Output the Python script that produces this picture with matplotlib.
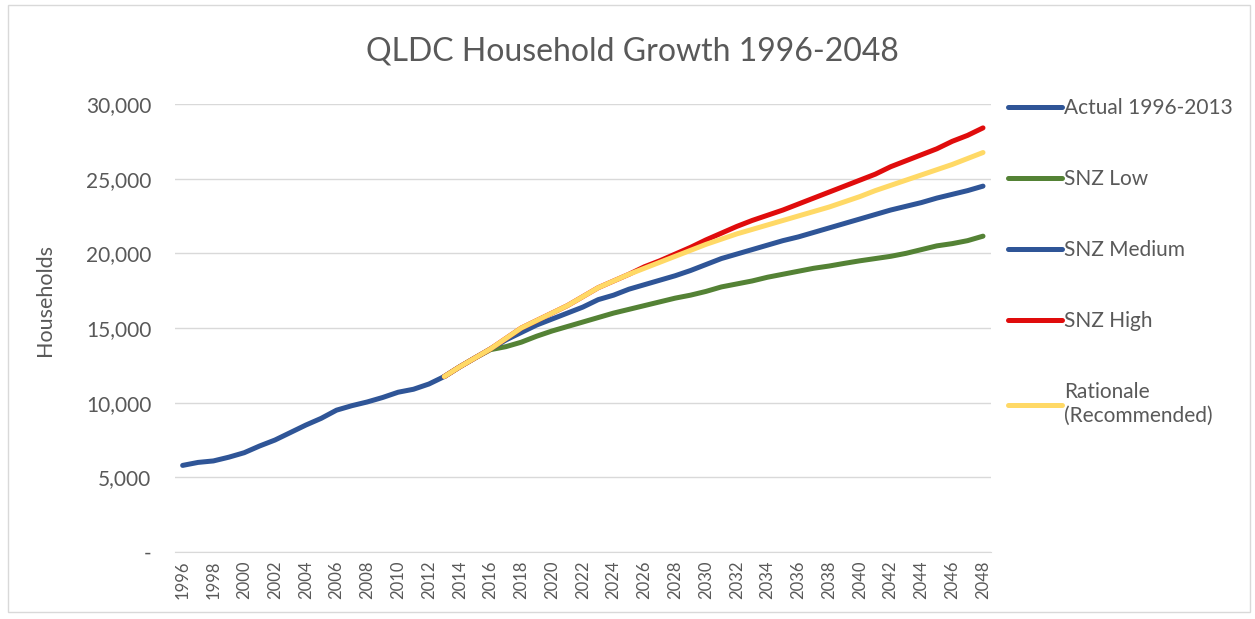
import numpy as np
import matplotlib.pyplot as plt
from matplotlib.patches import Rectangle

plt.rcParams['font.family'] = ['Lato', 'DejaVu Sans']

years = list(range(1996, 2049))
actual_years = list(range(1996, 2014))
proj_years = list(range(2013, 2049))

actual = [5800, 6000, 6100, 6350, 6650, 7100, 7500, 8000, 8500, 8950,
          9500, 9800, 10050, 10350, 10700, 10900, 11250, 11750]

snz_low = [11750, 12400, 13000, 13550, 13750, 14050, 14450, 14800, 15100, 15400,
           15700, 16000, 16250, 16500, 16750, 17000, 17200, 17450, 17750, 17950,
           18150, 18400, 18600, 18800, 19000, 19150, 19330, 19500, 19650, 19800,
           20000, 20250, 20500, 20650, 20850, 21150]

snz_medium = [11750, 12400, 13000, 13600, 14200, 14700, 15200, 15600, 16000, 16400,
              16900, 17200, 17600, 17900, 18200, 18500, 18850, 19250, 19650, 19950,
              20250, 20550, 20850, 21100, 21400, 21700, 22000, 22300, 22600, 22900,
              23150, 23400, 23700, 23950, 24200, 24500]

snz_high = [11750, 12400, 13000, 13600, 14300, 15000, 15500, 16000, 16500, 17100,
            17700, 18150, 18600, 19100, 19500, 19950, 20400, 20900, 21350, 21800,
            22200, 22550, 22900, 23300, 23700, 24100, 24500, 24900, 25300, 25800,
            26200, 26600, 27000, 27500, 27900, 28400]

rationale = [11750, 12400, 13000, 13600, 14300, 15000, 15500, 16000, 16500, 17100,
             17700, 18150, 18600, 19000, 19400, 19800, 20200, 20600, 20950, 21300,
             21600, 21900, 22200, 22500, 22800, 23100, 23450, 23800, 24200, 24550,
             24900, 25250, 25600, 25950, 26350, 26750]

labels = ['Actual 1996-2013', 'SNZ Low', 'SNZ Medium', 'SNZ High',
          'Rationale\n(Recommended)']
colors = ['#2f5597', '#548235', '#2f5597', '#e00c0c', '#ffd966']

grey = '#595959'

fig = plt.figure(figsize=(12.55, 6.19), dpi=100)
ax = fig.add_axes([0.1394, 0.1082, 0.650, 0.7238])

# categorical x positions
def pos(yrs):
    return [y - 1996 for y in yrs]

series = [(actual_years, actual), (proj_years, snz_low), (proj_years, snz_medium),
          (proj_years, snz_high), (proj_years, rationale)]
for (yrs, vals), lab, c in zip(series, labels, colors):
    ax.plot(pos(yrs), vals, color=c, lw=3.6, label=lab,
            solid_capstyle='round', solid_joinstyle='round')

ax.set_xlim(-0.5, len(years) - 0.5)
ax.set_ylim(0, 30000)
ax.set_yticks(range(0, 30001, 5000))
ax.set_yticklabels(['-' if v == 0 else '{:,}'.format(v) for v in range(0, 30001, 5000)])
ax.set_xticks(range(0, len(years), 2))
ax.set_xticklabels([str(y) for y in years[::2]], rotation=90)
ax.tick_params(axis='y', length=0, labelsize=15, labelcolor=grey, pad=17)
ax.tick_params(axis='x', length=0, labelsize=12, labelcolor=grey, pad=6)
ax.grid(axis='y', color='#d9d9d9', lw=1)
ax.set_axisbelow(True)
for s in ['top', 'right', 'left']:
    ax.spines[s].set_visible(False)
ax.spines['bottom'].set_color('#d9d9d9')

fig.text(0.504, 0.916, 'QLDC Household Growth 1996-2048', ha='center', va='center',
         fontsize=23, color=grey)
fig.text(0.036, 0.515, 'Households', rotation=90, ha='center', va='center',
         fontsize=15.5, color=grey)

leg = ax.legend(loc='upper left', bbox_to_anchor=(0.998, 1.055), frameon=False,
                fontsize=15, handlelength=2.6, handletextpad=0.1,
                labelspacing=2.45, labelcolor=grey)
for h in leg.get_lines():
    h.set_linewidth(3.6)

fig.add_artist(Rectangle((0.006, 0.012), 0.99, 0.98, transform=fig.transFigure,
                         fill=False, edgecolor='#d9d9d9', lw=1))

fig.savefig('out.png', dpi=100)
